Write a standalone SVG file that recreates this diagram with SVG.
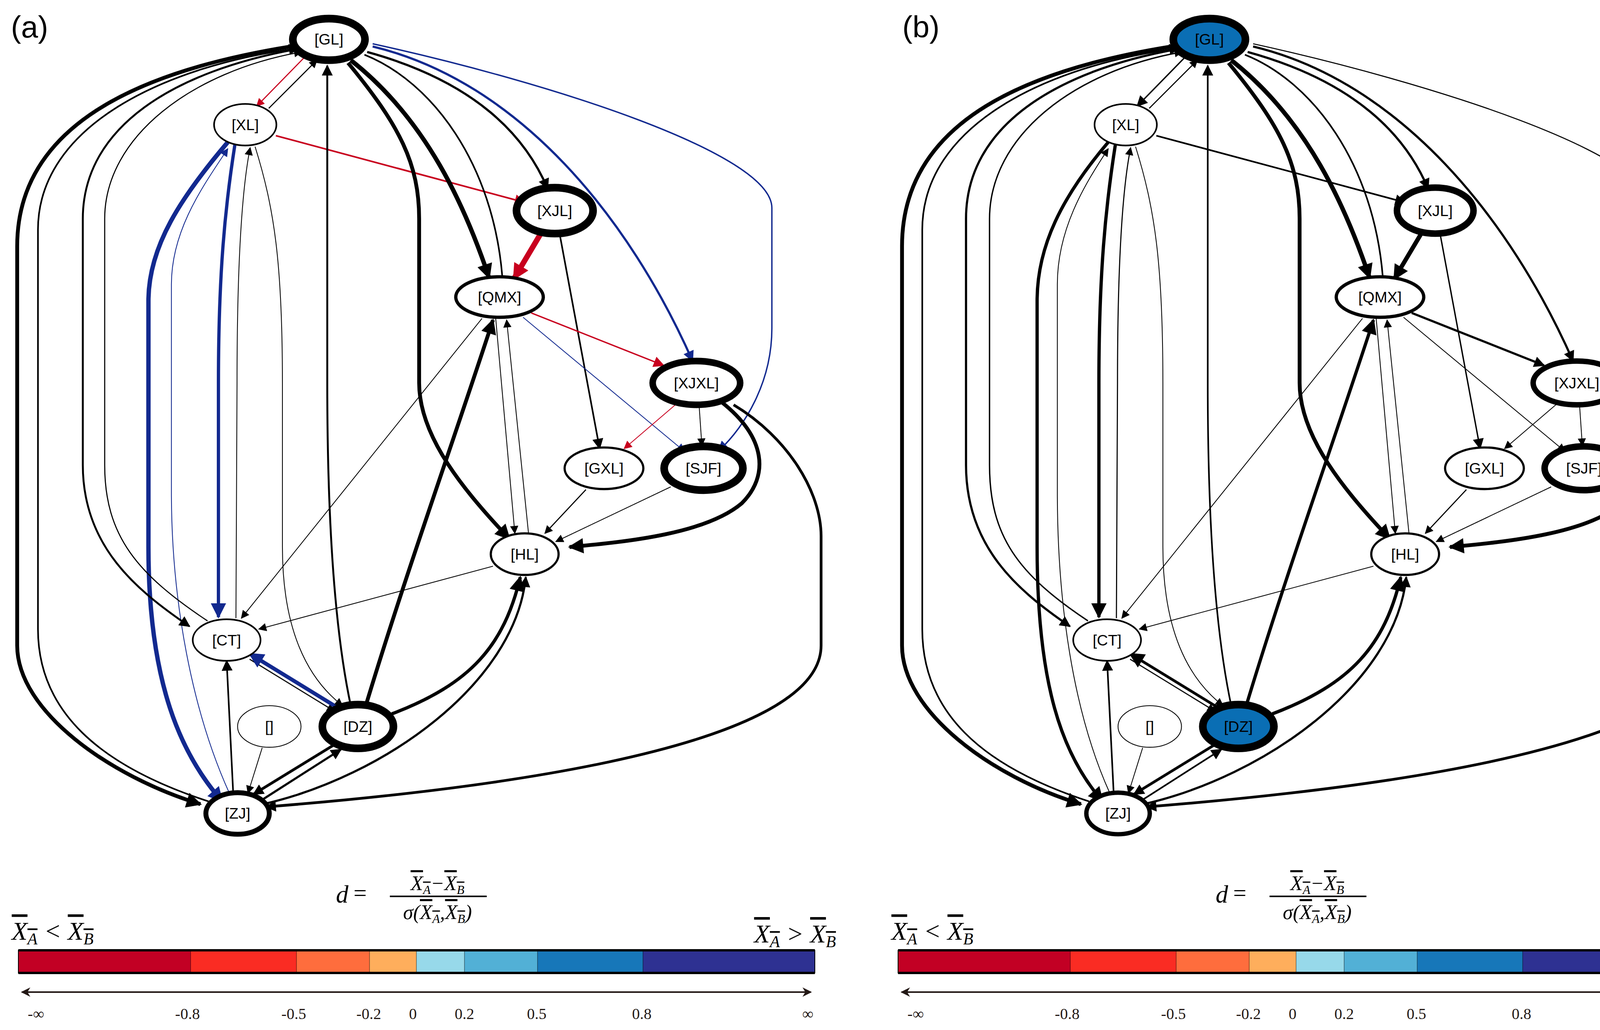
<svg xmlns="http://www.w3.org/2000/svg" width="4399" height="2636" viewBox="0 0 4399 2636">
<style>
.e{fill:none;stroke:#000}
.r{fill:none;stroke:#c8001e}
.b{fill:none;stroke:#12298f}
.n ellipse{fill:#fff;stroke:#000}
.n text{font-family:"Liberation Sans",Arial,sans-serif;font-size:28px;text-anchor:middle;dominant-baseline:central}
.lab{font-family:"Liberation Sans",Arial,sans-serif;font-size:78px}
.tk{font-family:"Liberation Serif","Times New Roman",serif;font-size:40px;text-anchor:middle;fill:#231815}
.fm{font-family:"Liberation Serif","Times New Roman",serif;font-style:italic}
</style>
<defs>
<marker id="ks" viewBox="0 0 10 10" refX="9" refY="5" markerUnits="userSpaceOnUse" markerWidth="20" markerHeight="15" orient="auto"><path d="M0,0L10,5L0,10z" fill="#000"/></marker>
<marker id="km" viewBox="0 0 10 10" refX="9" refY="5" markerUnits="userSpaceOnUse" markerWidth="26" markerHeight="20" orient="auto"><path d="M0,0L10,5L0,10z" fill="#000"/></marker>
<marker id="kl" viewBox="0 0 10 10" refX="9" refY="5" markerUnits="userSpaceOnUse" markerWidth="34" markerHeight="28" orient="auto"><path d="M0,0L10,5L0,10z" fill="#000"/></marker>
<marker id="rs" viewBox="0 0 10 10" refX="9" refY="5" markerUnits="userSpaceOnUse" markerWidth="20" markerHeight="15" orient="auto"><path d="M0,0L10,5L0,10z" fill="#c8001e"/></marker>
<marker id="rm" viewBox="0 0 10 10" refX="9" refY="5" markerUnits="userSpaceOnUse" markerWidth="26" markerHeight="20" orient="auto"><path d="M0,0L10,5L0,10z" fill="#c8001e"/></marker>
<marker id="rl" viewBox="0 0 10 10" refX="9" refY="5" markerUnits="userSpaceOnUse" markerWidth="34" markerHeight="30" orient="auto"><path d="M0,0L10,5L0,10z" fill="#c8001e"/></marker>
<marker id="bs" viewBox="0 0 10 10" refX="9" refY="5" markerUnits="userSpaceOnUse" markerWidth="20" markerHeight="15" orient="auto"><path d="M0,0L10,5L0,10z" fill="#12298f"/></marker>
<marker id="bm" viewBox="0 0 10 10" refX="9" refY="5" markerUnits="userSpaceOnUse" markerWidth="26" markerHeight="20" orient="auto"><path d="M0,0L10,5L0,10z" fill="#12298f"/></marker>
<marker id="bl" viewBox="0 0 10 10" refX="9" refY="5" markerUnits="userSpaceOnUse" markerWidth="34" markerHeight="28" orient="auto"><path d="M0,0L10,5L0,10z" fill="#12298f"/></marker>
<marker id="ax" viewBox="0 0 10 10" refX="9" refY="5" markerWidth="6" markerHeight="10" orient="auto-start-reverse"><path d="M0,0L10,5L0,10L3,5z" fill="#231815"/></marker>
</defs>
<rect width="4399" height="2636" fill="#fff"/>
<text class="lab" x="28" y="96">(a)</text>
<text class="lab" x="2310" y="96">(b)</text>

<!-- PANEL A -->
<g id="panelA" transform="translate(2,0) scale(1.40)">
<g id="edgesA">
<path class="r" stroke-width="2" marker-end="url(#rs)" d="M557,103L468,194"/>
<path class="e" stroke-width="2" marker-end="url(#ks)" d="M490,198L578,110"/>
<path class="r" stroke-width="3" marker-end="url(#rm)" d="M503,248L958,370"/>
<path class="r" stroke-width="10" marker-end="url(#rl)" d="M988,426L938,510"/>
<path class="e" stroke-width="4" marker-end="url(#km)" d="M670,95C870,150 960,250 1000,345"/>
<path class="e" stroke-width="8" marker-end="url(#kl)" d="M640,110C780,220 850,380 893,508"/>
<path class="e" stroke-width="3" d="M917,505C900,300 790,150 665,100"/>
<path class="e" stroke-width="7" marker-end="url(#kl)" d="M635,115C730,230 765,300 765,400L765,700C765,800 850,900 930,985"/>
<path class="b" stroke-width="4" marker-end="url(#bm)" d="M680,85C950,150 1150,400 1265,660"/>
<path class="b" stroke-width="2.5" marker-end="url(#bm)" d="M680,80C1000,150 1410,280 1410,380L1410,600C1410,700 1360,780 1312,825"/>
<path class="e" stroke-width="3" marker-end="url(#km)" d="M1022,428L1095,820"/>
<path class="r" stroke-width="2.5" marker-end="url(#rm)" d="M970,572L1212,668"/>
<path class="b" stroke-width="1.5" marker-end="url(#bs)" d="M955,580L1250,825"/>
<path class="r" stroke-width="1.5" marker-end="url(#rs)" d="M1237,737L1140,820"/>
<path class="e" stroke-width="1.5" marker-end="url(#ks)" d="M1277,742L1282,815"/>
<path class="e" stroke-width="7" marker-end="url(#kl)" d="M1318,735C1400,800 1405,870 1355,920C1290,975 1150,990 1040,1000"/>
<path class="e" stroke-width="5" marker-end="url(#km)" d="M1340,740C1440,800 1500,900 1500,980L1500,1180C1500,1380 800,1450 485,1475"/>
<path class="e" stroke-width="2" marker-end="url(#ks)" d="M1070,895L995,975"/>
<path class="e" stroke-width="1.5" marker-end="url(#ks)" d="M1225,890L1015,990"/>
<path class="e" stroke-width="1.5" marker-end="url(#ks)" d="M905,582L940,975"/>
<path class="e" stroke-width="1.5" marker-end="url(#ks)" d="M965,975L925,585"/>
<path class="e" stroke-width="1.5" marker-end="url(#ks)" d="M880,582L440,1130"/>
<path class="e" stroke-width="1.5" marker-end="url(#ks)" d="M900,1035L472,1150"/>
<path class="e" stroke-width="7" marker-end="url(#kl)" d="M668,1288C740,1050 830,800 900,585"/>
<path class="e" stroke-width="6" marker-end="url(#kl)" d="M715,1305C860,1250 920,1180 950,1055"/>
<path class="e" stroke-width="4" marker-end="url(#km)" d="M480,1470C700,1420 940,1250 960,1055"/>
<path class="e" stroke-width="5" marker-end="url(#km)" d="M612,1360L462,1452"/>
<path class="e" stroke-width="4" marker-end="url(#km)" d="M478,1462L622,1370"/>
<path class="e" stroke-width="2" marker-end="url(#ks)" d="M455,1205L610,1300"/>
<path class="b" stroke-width="7" marker-end="url(#bl)" d="M615,1293L455,1195"/>
<path class="e" stroke-width="3.5" marker-end="url(#km)" d="M640,1290C610,1150 597,950 597,700L597,120"/>
<path class="e" stroke-width="3" marker-end="url(#km)" d="M425,1450L413,1208"/>
<path class="e" stroke-width="1.5" marker-end="url(#ks)" d="M478,1367L452,1450"/>
<path class="b" stroke-width="6" marker-end="url(#bl)" d="M428,265C410,380 398,500 398,700L398,1128"/>
<path class="e" stroke-width="1.5" marker-end="url(#ks)" d="M430,1130L432,700C432,500 440,350 456,270"/>
<path class="e" stroke-width="1.5" marker-end="url(#ks)" d="M465,268C500,380 515,480 515,700L515,1000C515,1150 560,1240 625,1290"/>
<path class="b" stroke-width="8" marker-end="url(#bl)" d="M415,260C330,360 270,450 270,550L270,1000C270,1250 330,1380 405,1465"/>
<path class="b" stroke-width="1.5" marker-end="url(#bs)" d="M418,1450C350,1300 312,1100 312,900L312,520C312,420 370,340 415,272"/>
<path class="e" stroke-width="3.5" marker-end="url(#km)" d="M540,90C320,130 150,230 150,400L150,850C150,1000 250,1080 345,1145"/>
<path class="e" stroke-width="2" marker-end="url(#ks)" d="M378,1135C250,1050 190,980 190,850L190,400C190,250 350,130 550,95"/>
<path class="e" stroke-width="7" marker-end="url(#kl)" d="M530,85C250,130 30,230 30,450L30,1180C30,1300 200,1420 365,1470"/>
<path class="e" stroke-width="3" marker-end="url(#km)" d="M380,1465C180,1400 68,1300 68,1150L68,420C68,230 300,120 545,88"/>
</g>
<g id="a-GL" class="n"><ellipse cx="600" cy="72" rx="66" ry="38" stroke-width="14"/><text x="600" y="72">[GL]</text></g>
<g id="a-XL" class="n"><ellipse cx="447" cy="228" rx="57" ry="38" stroke-width="3"/><text x="447" y="228">[XL]</text></g>
<g id="a-XJL" class="n"><ellipse cx="1013" cy="385" rx="70" ry="42" stroke-width="14"/><text x="1013" y="385">[XJL]</text></g>
<g id="a-QMX" class="n"><ellipse cx="912" cy="543" rx="80" ry="37" stroke-width="6"/><text x="912" y="543">[QMX]</text></g>
<g id="a-XJXL" class="n"><ellipse cx="1272" cy="700" rx="80" ry="40" stroke-width="12"/><text x="1272" y="700">[XJXL]</text></g>
<g id="a-GXL" class="n"><ellipse cx="1103" cy="856" rx="72" ry="38" stroke-width="4"/><text x="1103" y="856">[GXL]</text></g>
<g id="a-SJF" class="n"><ellipse cx="1285" cy="856" rx="72" ry="40" stroke-width="14"/><text x="1285" y="856">[SJF]</text></g>
<g id="a-HL" class="n"><ellipse cx="958" cy="1013" rx="62" ry="38" stroke-width="4"/><text x="958" y="1013">[HL]</text></g>
<g id="a-CT" class="n"><ellipse cx="413" cy="1170" rx="62" ry="38" stroke-width="3"/><text x="413" y="1170">[CT]</text></g>
<g id="a-E" class="n"><ellipse cx="491" cy="1328" rx="58" ry="38" stroke-width="1.5"/><text x="491" y="1328">[]</text></g>
<g id="a-DZ" class="n"><ellipse cx="653" cy="1328" rx="65" ry="40" stroke-width="14"/><text x="653" y="1328">[DZ]</text></g>
<g id="a-ZJ" class="n"><ellipse cx="433" cy="1487" rx="58" ry="38" stroke-width="9"/><text x="433" y="1487">[ZJ]</text></g>
</g>

<!-- PANEL B -->
<g id="panelB" transform="translate(2256,0) scale(1.40)">
<g id="edgesB">
<path class="e" stroke-width="2.5" marker-end="url(#km)" d="M557,103L468,194"/>
<path class="e" stroke-width="2" marker-end="url(#ks)" d="M490,198L578,110"/>
<path class="e" stroke-width="3" marker-end="url(#km)" d="M503,248L958,370"/>
<path class="e" stroke-width="8" marker-end="url(#kl)" d="M988,426L938,510"/>
<path class="e" stroke-width="4" marker-end="url(#km)" d="M670,95C870,150 960,250 1000,345"/>
<path class="e" stroke-width="8" marker-end="url(#kl)" d="M640,110C780,220 850,380 893,508"/>
<path class="e" stroke-width="3" d="M917,505C900,300 790,150 665,100"/>
<path class="e" stroke-width="7" marker-end="url(#kl)" d="M635,115C730,230 765,300 765,400L765,700C765,800 850,900 930,985"/>
<path class="e" stroke-width="4" marker-end="url(#km)" d="M680,85C950,150 1150,400 1265,660"/>
<path class="e" stroke-width="2" marker-end="url(#ks)" d="M680,80C1000,150 1410,280 1410,380L1410,600C1410,700 1360,780 1312,825"/>
<path class="e" stroke-width="2.5" marker-end="url(#km)" d="M1022,428L1095,820"/>
<path class="e" stroke-width="4" marker-end="url(#km)" d="M970,572L1212,668"/>
<path class="e" stroke-width="1.5" marker-end="url(#ks)" d="M955,580L1250,825"/>
<path class="e" stroke-width="1.5" marker-end="url(#ks)" d="M1237,737L1140,820"/>
<path class="e" stroke-width="1.5" marker-end="url(#ks)" d="M1277,742L1282,815"/>
<path class="e" stroke-width="7" marker-end="url(#kl)" d="M1318,735C1400,800 1405,870 1355,920C1290,975 1150,990 1040,1000"/>
<path class="e" stroke-width="5" marker-end="url(#km)" d="M1340,740C1440,800 1500,900 1500,980L1500,1180C1500,1380 800,1450 485,1475"/>
<path class="e" stroke-width="2" marker-end="url(#ks)" d="M1070,895L995,975"/>
<path class="e" stroke-width="1.5" marker-end="url(#ks)" d="M1225,890L1015,990"/>
<path class="e" stroke-width="1.5" marker-end="url(#ks)" d="M905,582L940,975"/>
<path class="e" stroke-width="1.5" marker-end="url(#ks)" d="M965,975L925,585"/>
<path class="e" stroke-width="1.5" marker-end="url(#ks)" d="M880,582L440,1130"/>
<path class="e" stroke-width="1.5" marker-end="url(#ks)" d="M900,1035L472,1150"/>
<path class="e" stroke-width="6" marker-end="url(#kl)" d="M668,1288C740,1050 830,800 900,585"/>
<path class="e" stroke-width="6" marker-end="url(#kl)" d="M715,1305C860,1250 920,1180 950,1055"/>
<path class="e" stroke-width="4" marker-end="url(#km)" d="M480,1470C700,1420 940,1250 960,1055"/>
<path class="e" stroke-width="5" marker-end="url(#km)" d="M612,1360L462,1452"/>
<path class="e" stroke-width="3" marker-end="url(#km)" d="M478,1462L622,1370"/>
<path class="e" stroke-width="2" marker-end="url(#ks)" d="M455,1205L610,1300"/>
<path class="e" stroke-width="5" marker-end="url(#kl)" d="M615,1293L455,1195"/>
<path class="e" stroke-width="3" marker-end="url(#km)" d="M640,1290C610,1150 597,950 597,700L597,120"/>
<path class="e" stroke-width="3" marker-end="url(#km)" d="M425,1450L413,1208"/>
<path class="e" stroke-width="1.5" marker-end="url(#ks)" d="M478,1367L452,1450"/>
<path class="e" stroke-width="6" marker-end="url(#kl)" d="M428,265C410,380 398,500 398,700L398,1128"/>
<path class="e" stroke-width="2" marker-end="url(#ks)" d="M430,1130L432,700C432,500 440,350 456,270"/>
<path class="e" stroke-width="1.5" marker-end="url(#ks)" d="M465,268C500,380 515,480 515,700L515,1000C515,1150 560,1240 625,1290"/>
<path class="e" stroke-width="6" marker-end="url(#kl)" d="M415,260C330,360 285,450 285,550L285,1000C285,1250 330,1380 405,1465"/>
<path class="e" stroke-width="1.5" marker-end="url(#ks)" d="M418,1450C350,1300 322,1100 322,900L322,520C322,420 370,340 415,272"/>
<path class="e" stroke-width="4" marker-end="url(#km)" d="M540,90C320,130 155,230 155,400L155,850C155,1000 250,1080 345,1145"/>
<path class="e" stroke-width="2.5" marker-end="url(#ks)" d="M378,1135C250,1050 198,980 198,850L198,400C198,250 350,130 550,95"/>
<path class="e" stroke-width="7" marker-end="url(#kl)" d="M530,85C250,130 38,230 38,450L38,1180C38,1300 200,1420 365,1470"/>
<path class="e" stroke-width="3" marker-end="url(#km)" d="M380,1465C180,1400 75,1300 75,1150L75,420C75,230 300,120 545,88"/>
</g>
<g id="b-GL" class="n"><ellipse cx="600" cy="72" rx="66" ry="38" stroke-width="14" style="fill:#0a6eb4"/><text x="600" y="72">[GL]</text></g>
<g id="b-XL" class="n"><ellipse cx="447" cy="228" rx="57" ry="38" stroke-width="3"/><text x="447" y="228">[XL]</text></g>
<g id="b-XJL" class="n"><ellipse cx="1013" cy="385" rx="70" ry="42" stroke-width="12"/><text x="1013" y="385">[XJL]</text></g>
<g id="b-QMX" class="n"><ellipse cx="912" cy="543" rx="80" ry="37" stroke-width="6"/><text x="912" y="543">[QMX]</text></g>
<g id="b-XJXL" class="n"><ellipse cx="1272" cy="700" rx="80" ry="40" stroke-width="10"/><text x="1272" y="700">[XJXL]</text></g>
<g id="b-GXL" class="n"><ellipse cx="1103" cy="856" rx="72" ry="38" stroke-width="4"/><text x="1103" y="856">[GXL]</text></g>
<g id="b-SJF" class="n"><ellipse cx="1285" cy="856" rx="72" ry="40" stroke-width="12"/><text x="1285" y="856">[SJF]</text></g>
<g id="b-HL" class="n"><ellipse cx="958" cy="1013" rx="62" ry="38" stroke-width="4"/><text x="958" y="1013">[HL]</text></g>
<g id="b-CT" class="n"><ellipse cx="413" cy="1170" rx="62" ry="38" stroke-width="3"/><text x="413" y="1170">[CT]</text></g>
<g id="b-E" class="n"><ellipse cx="491" cy="1328" rx="58" ry="38" stroke-width="1.5"/><text x="491" y="1328">[]</text></g>
<g id="b-DZ" class="n"><ellipse cx="653" cy="1328" rx="65" ry="40" stroke-width="14" style="fill:#0a6eb4"/><text x="653" y="1328">[DZ]</text></g>
<g id="b-ZJ" class="n"><ellipse cx="433" cy="1487" rx="58" ry="38" stroke-width="8"/><text x="433" y="1487">[ZJ]</text></g>
</g>

<!-- LEGENDS -->
<g id="legendA">
<g id="legendBody">
<rect x="47" y="2432" width="441" height="58" fill="#c20024"/>
<rect x="488" y="2432" width="271" height="58" fill="#fa2c23"/>
<rect x="759" y="2432" width="187" height="58" fill="#fe6d3d"/>
<rect x="946" y="2432" width="120" height="58" fill="#feae5c"/>
<rect x="1066" y="2432" width="123" height="58" fill="#97d9ea"/>
<rect x="1189" y="2432" width="187" height="58" fill="#52b0d6"/>
<rect x="1376" y="2432" width="270" height="58" fill="#1777b9"/>
<rect x="1646" y="2432" width="440" height="58" fill="#2e3192"/>
<g stroke="#000" stroke-width="0.8"><line x1="488" y1="2432" x2="488" y2="2490"/><line x1="759" y1="2432" x2="759" y2="2490"/><line x1="946" y1="2432" x2="946" y2="2490"/><line x1="1066" y1="2432" x2="1066" y2="2490"/><line x1="1189" y1="2432" x2="1189" y2="2490"/><line x1="1376" y1="2432" x2="1376" y2="2490"/><line x1="1646" y1="2432" x2="1646" y2="2490"/></g>
<rect x="47" y="2432" width="2039" height="58" fill="none" stroke="#000" stroke-width="2"/>
<rect x="47" y="2429" width="2039" height="6" fill="#000"/>
<rect x="47" y="2487" width="2039" height="6" fill="#000"/>
<line x1="56" y1="2539" x2="2076" y2="2539" stroke="#231815" stroke-width="4" marker-start="url(#ax)" marker-end="url(#ax)"/>
<text class="tk" x="92" y="2608">-∞</text>
<text class="tk" x="480" y="2608">-0.8</text>
<text class="tk" x="752" y="2608">-0.5</text>
<text class="tk" x="944" y="2608">-0.2</text>
<text class="tk" x="1057" y="2608">0</text>
<text class="tk" x="1189" y="2608">0.2</text>
<text class="tk" x="1374" y="2608">0.5</text>
<text class="tk" x="1643" y="2608">0.8</text>
<text class="tk" x="2068" y="2608">∞</text>
<text class="fm" x="860" y="2310" font-size="64">d</text>
<text x="905" y="2305" font-family="Liberation Serif,serif" font-size="60">=</text>
<line x1="998" y1="2294" x2="1246" y2="2294" stroke="#000" stroke-width="4"/>
<text class="fm" x="1120" y="2278" font-size="52" text-anchor="middle"><tspan text-decoration="overline">X<tspan font-size="32" dy="10">A</tspan></tspan><tspan dy="-10">−</tspan><tspan text-decoration="overline">X<tspan font-size="32" dy="10">B</tspan></tspan></text>
<text class="fm" x="1120" y="2352" font-size="52" text-anchor="middle">σ(<tspan text-decoration="overline">X<tspan font-size="32" dy="10">A</tspan></tspan><tspan dy="-10">,</tspan><tspan text-decoration="overline">X<tspan font-size="32" dy="10">B</tspan></tspan><tspan dy="-10">)</tspan></text>
<text class="fm" x="30" y="2405" font-size="66"><tspan text-decoration="overline">X<tspan font-size="42" dy="12">A</tspan></tspan><tspan dy="-12"> &lt; </tspan><tspan text-decoration="overline">X<tspan font-size="42" dy="12">B</tspan></tspan></text>
<text class="fm" x="2140" y="2412" font-size="66" text-anchor="end"><tspan text-decoration="overline">X<tspan font-size="42" dy="12">A</tspan></tspan><tspan dy="-12"> &gt; </tspan><tspan text-decoration="overline">X<tspan font-size="42" dy="12">B</tspan></tspan></text>
</g>
</g>
<g id="legendB" transform="translate(2252,0)"><use href="#legendBody"/></g>
</svg>
